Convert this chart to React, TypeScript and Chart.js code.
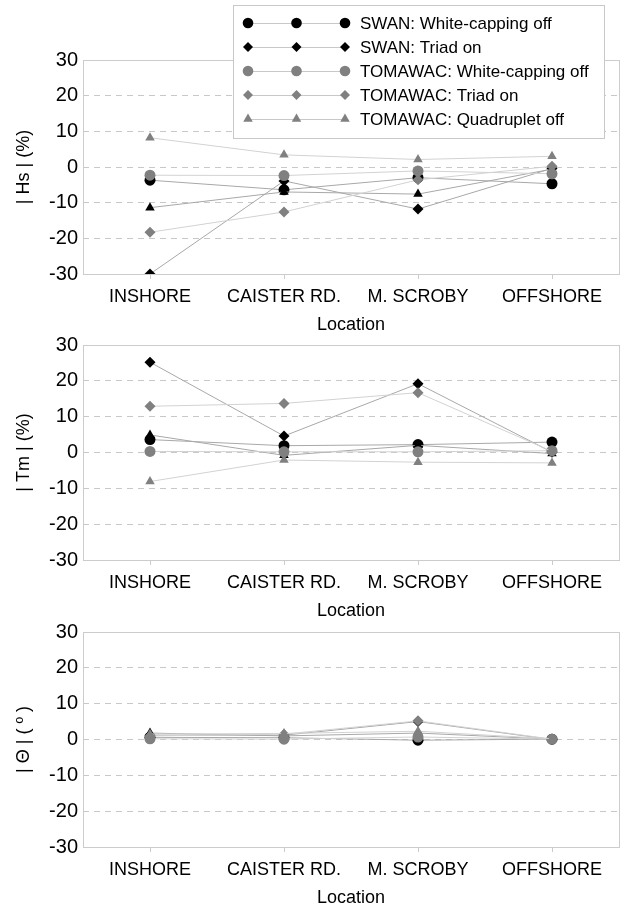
import React, { useEffect, useRef } from 'react';
import { Chart, registerables } from 'chart.js';
Chart.register(...registerables);

// ---------- data ----------
const locations = ['INSHORE', 'CAISTER RD.', 'M. SCROBY', 'OFFSHORE'];
const yMin = -30;
const yMax = 30;
const yStep = 10;

const seriesNames = [
  'SWAN: White-capping off',
  'SWAN: Triad on',
  'SWAN: Quadruplet off',
  'TOMAWAC: White-capping off',
  'TOMAWAC: Triad on',
  'TOMAWAC: Quadruplet off',
];

// |Hs| (%)
const hsSwanWcOff = [-3.7, -6.4, -3.0, -4.7];
const hsSwanTriadOn = [-30.0, -3.9, -11.8, -0.4];
const hsSwanQuadOff = [-11.4, -7.0, -7.6, -0.6];
const hsTomWcOff = [-2.3, -2.4, -1.1, -1.9];
const hsTomTriadOn = [-18.3, -12.6, -3.6, 0.2];
const hsTomQuadOff = [8.2, 3.4, 2.1, 3.0];

// |Tm| (%)
const tmSwanWcOff = [3.6, 1.9, 2.2, 2.9];
const tmSwanTriadOn = [25.2, 4.6, 19.2, 0.1];
const tmSwanQuadOff = [4.9, -0.8, 2.0, -0.3];
const tmTomWcOff = [0.3, 0.2, 0.2, 0.5];
const tmTomTriadOn = [12.9, 13.7, 16.7, 0.3];
const tmTomQuadOff = [-8.1, -2.1, -2.7, -2.9];

// |Θ| (°)
const thSwanWcOff = [0.6, 0.5, -0.2, 0.1];
const thSwanTriadOn = [1.2, 1.2, 5.0, 0.0];
const thSwanQuadOff = [1.8, 1.0, 1.8, 0.1];
const thTomWcOff = [0.2, 0.1, 0.7, 0.1];
const thTomTriadOn = [1.0, 1.5, 5.2, 0.1];
const thTomQuadOff = [1.5, 1.7, 2.3, 0.2];

const hsData = [hsSwanWcOff, hsSwanTriadOn, hsSwanQuadOff, hsTomWcOff, hsTomTriadOn, hsTomQuadOff];
const tmData = [tmSwanWcOff, tmSwanTriadOn, tmSwanQuadOff, tmTomWcOff, tmTomTriadOn, tmTomQuadOff];
const thData = [thSwanWcOff, thSwanTriadOn, thSwanQuadOff, thTomWcOff, thTomTriadOn, thTomQuadOff];

// legend shows these series (index into seriesNames)
const legendOrder = [0, 1, 3, 4, 5];

// ---------- styles ----------
const BLACK = '#000000';
const GREY = '#808080';
const styles = [
  { color: BLACK, line: '#a8a8a8', shape: 'circle', r: 5.5 },
  { color: BLACK, line: '#a8a8a8', shape: 'rectRot', r: 5.5 },
  { color: BLACK, line: '#a8a8a8', shape: 'triangle', r: 5.5 },
  { color: GREY, line: '#d2d2d2', shape: 'circle', r: 5.5 },
  { color: GREY, line: '#d2d2d2', shape: 'rectRot', r: 5.5 },
  { color: GREY, line: '#d2d2d2', shape: 'triangle', r: 5.5 },
];

const FONT_FAMILY = "'Liberation Sans', Arial, Helvetica, sans-serif";
const FRAME = '#cccccc';

function drawMarker(ctx: CanvasRenderingContext2D, shape: string, x: number, y: number, r: number, color: string) {
  ctx.save();
  ctx.fillStyle = color;
  ctx.beginPath();
  if (shape === 'circle') {
    ctx.arc(x, y, r, 0, Math.PI * 2);
  } else if (shape === 'rectRot') {
    ctx.moveTo(x, y - r);
    ctx.lineTo(x + r, y);
    ctx.lineTo(x, y + r);
    ctx.lineTo(x - r, y);
    ctx.closePath();
  } else {
    const w = (r * Math.sqrt(3)) / 2;
    ctx.moveTo(x, y - r);
    ctx.lineTo(x + w, y + r / 2);
    ctx.lineTo(x - w, y + r / 2);
    ctx.closePath();
  }
  ctx.fill();
  ctx.restore();
}

const framePlugin = {
  id: 'plotFrame',
  beforeDatasetsDraw(chart: any) {
    const { ctx, chartArea } = chart;
    ctx.save();
    ctx.strokeStyle = FRAME;
    ctx.lineWidth = 1;
    ctx.strokeRect(
      Math.round(chartArea.left) + 0.5,
      Math.round(chartArea.top) + 0.5,
      Math.round(chartArea.right - chartArea.left),
      Math.round(chartArea.bottom - chartArea.top)
    );
    ctx.restore();
  },
};

const legendPlugin = {
  id: 'boxLegend',
  afterDraw(chart: any) {
    const ctx: CanvasRenderingContext2D = chart.ctx;
    ctx.save();
    const bx = 233.5, by = 5.5, bw = 371, bh = 133;
    ctx.fillStyle = '#ffffff';
    ctx.fillRect(bx, by, bw, bh);
    ctx.strokeStyle = '#c8c8c8';
    ctx.lineWidth = 1;
    ctx.strokeRect(bx, by, bw, bh);
    const xs = [248, 296.5, 345];
    legendOrder.forEach((si, i) => {
      const st = styles[si];
      const y = 23 + i * 24;
      ctx.strokeStyle = '#c8c8c8';
      ctx.lineWidth = 1;
      ctx.beginPath();
      ctx.moveTo(xs[0], y + 0.5);
      ctx.lineTo(xs[2], y + 0.5);
      ctx.stroke();
      const rr = st.shape === 'circle' ? 5.3 : st.shape === 'rectRot' ? 5 : 5.5;
      xs.forEach((x) => drawMarker(ctx, st.shape, x, y, rr, st.color));
      ctx.fillStyle = '#000';
      ctx.font = `17px ${FONT_FAMILY}`;
      ctx.textBaseline = 'middle';
      ctx.textAlign = 'left';
      ctx.fillText(seriesNames[si], 360, y + 1);
    });
    ctx.restore();
  },
};

type PanelProps = {
  top: number;
  height: number;
  padTop: number;
  yTitle: string;
  values: number[][];
  legend?: boolean;
};

function Panel({ top, height, padTop, yTitle, values, legend }: PanelProps) {
  const ref = useRef<HTMLCanvasElement>(null);
  useEffect(() => {
    const font = { family: FONT_FAMILY, size: 18 };
    const yFont = { family: FONT_FAMILY, size: 20 };
    const datasets = values.map((v, i) => ({
      label: seriesNames[i],
      data: v,
      borderColor: styles[i].line,
      borderWidth: 1,
      backgroundColor: styles[i].color,
      pointBackgroundColor: styles[i].color,
      pointBorderColor: styles[i].color,
      pointBorderWidth: 0,
      pointStyle: styles[i].shape as any,
      pointRadius: styles[i].r,
      tension: 0,
      fill: false,
      order: -i,
    }));
    const chart = new Chart(ref.current as HTMLCanvasElement, {
      type: 'line',
      data: { labels: locations, datasets },
      options: {
        animation: false,
        responsive: false,
        maintainAspectRatio: false,
        layout: { padding: { top: padTop, right: 13, left: 0, bottom: 0 } },
        plugins: {
          legend: { display: false },
          tooltip: { enabled: false },
        },
        scales: {
          x: {
            offset: true,
            grid: {
              offset: false,
              drawOnChartArea: false,
              drawTicks: true,
              tickLength: 5,
              color: FRAME,
              tickColor: FRAME,
            },
            border: { display: false },
            ticks: { font, color: '#000', padding: 7, maxRotation: 0, autoSkip: false },
            title: { display: true, text: 'Location', font, color: '#000', padding: 0 },
            afterFit: (s: any) => {
              s.height = 62;
            },
          },
          y: {
            min: yMin,
            max: yMax,
            ticks: { stepSize: yStep, font: yFont, color: '#000', padding: 5 },
            grid: {
              drawTicks: false,
              color: (c: any) => (c.tick && Math.abs(c.tick.value) === 30 ? 'rgba(0,0,0,0)' : '#c8c8c8'),
            },
            border: { display: false, dash: [6, 5] },
            title: { display: true, text: yTitle, font, color: '#000', padding: { top: 13, bottom: 0 } },
            afterFit: (s: any) => {
              s.width = 83;
            },
          },
        },
      },
      plugins: legend ? [framePlugin, legendPlugin] : [framePlugin],
    });
    return () => chart.destroy();
  }, []);
  return (
    <canvas
      ref={ref}
      width={632}
      height={height}
      style={{ position: 'absolute', left: 0, top, width: 632, height }}
    />
  );
}

export default function App() {
  return (
    <div
      style={{
        position: 'absolute',
        left: 0,
        top: 0,
        width: 632,
        height: 909,
        overflow: 'hidden',
        background: '#fff',
      }}
    >
      <Panel top={0} height={336} padTop={60} yTitle="| Hs | (%)" values={hsData} legend />
      <Panel top={325} height={297} padTop={20} yTitle="| Tm | (%)" values={tmData} />
      <Panel top={612} height={297} padTop={20} yTitle="| Θ | ( º )" values={thData} />
    </div>
  );
}
